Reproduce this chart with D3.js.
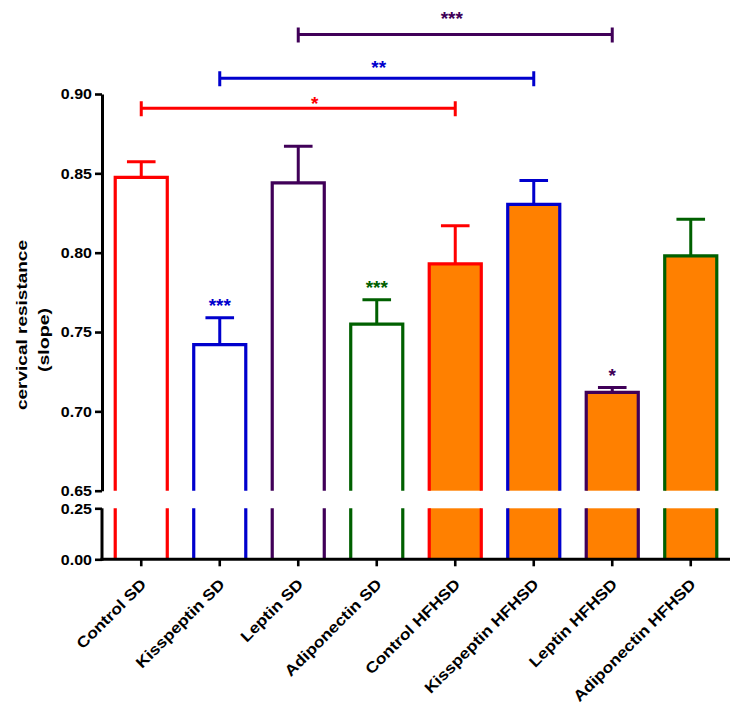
<!DOCTYPE html>
<html>
<head>
<meta charset="utf-8">
<script src="https://cdn.jsdelivr.net/npm/d3@7"></script>
<style>
  html, body { margin: 0; padding: 0; background: #fff; }
  svg { display: block; }
  text { font-family: "Liberation Sans", Arial, sans-serif; font-weight: bold; }
</style>
</head>
<body>
<svg id="chart" width="740" height="707"></svg>
<script>
// ---- data ----
const categories = ["Control SD", "Kisspeptin SD", "Leptin SD", "Adiponectin SD",
                    "Control HFHSD", "Kisspeptin HFHSD", "Leptin HFHSD", "Adiponectin HFHSD"];
const means = [0.8475, 0.742, 0.844, 0.755, 0.793, 0.8305, 0.712, 0.798];
const sems  = [0.0098, 0.017, 0.023, 0.0154, 0.024, 0.015, 0.003, 0.023];
const barSignificance = ["", "***", "", "***", "", "", "*", ""];
const topTicks = [0.65, 0.70, 0.75, 0.80, 0.85, 0.90];
const bottomTicks = [0.00, 0.25];
const compFrom  = ["Control SD", "Kisspeptin SD", "Leptin SD"];
const compTo    = ["Control HFHSD", "Kisspeptin HFHSD", "Leptin HFHSD"];
const compLevel = [0.891, 0.910, 0.9375];
const compStarLevel = [0.897, 0.9195, 0.9504];
const compLabel = ["*", "**", "***"];

// ---- styles ----
const edgeColors = ["#FF0000", "#0000CD", "#400058", "#006000", "#FF0000", "#0000CD", "#400058", "#006000"];
const fillColors = ["#FFFFFF", "#FFFFFF", "#FFFFFF", "#FFFFFF", "#FF8000", "#FF8000", "#FF8000", "#FF8000"];
const compColors = ["#FF0000", "#0000CD", "#400058"];
const compStarNudge = [16.5, 2, -3.5];

const svg = d3.select("#chart");

const axisX = 102;
const x = d3.scaleBand().domain(categories).range([axisX, 730]).paddingInner(0.337).paddingOuter(0.1685);
const yTop = d3.scaleLinear().domain([0.65, 0.90]).range([490.7, 94]);
const yBot = d3.scaleLinear().domain([0, 0.25]).range([559.3, 508.3]);
const bw = x.bandwidth();
const cx = c => x(c) + bw / 2;

const rows = categories.map((c, i) => ({c, m: means[i], s: sems[i], sig: barSignificance[i], edge: edgeColors[i], fill: fillColors[i]}));

// ---- bars ----
const bars = svg.append("g");
bars.selectAll("rect.top").data(rows).join("rect")
  .attr("x", d => x(d.c)).attr("width", bw)
  .attr("y", d => yTop(d.m)).attr("height", d => yTop(0.65) - yTop(d.m))
  .attr("fill", d => d.fill);
bars.selectAll("rect.bot").data(rows).join("rect")
  .attr("x", d => x(d.c)).attr("width", bw)
  .attr("y", yBot(0.25)).attr("height", yBot(0) - yBot(0.25))
  .attr("fill", d => d.fill);
bars.selectAll("path.outline").data(rows).join("path")
  .attr("fill", "none").attr("stroke", d => d.edge).attr("stroke-width", 3.2)
  .attr("stroke-linejoin", "miter")
  .attr("d", d => {
    const l = x(d.c), r = x(d.c) + bw;
    return `M${l},${yTop(0.65)}V${yTop(d.m)}H${r}V${yTop(0.65)}` +
           `M${l},${yBot(0.25)}V${yBot(0)}M${r},${yBot(0.25)}V${yBot(0)}`;
  });

// error bars
const capHalf = 14.3;
bars.selectAll("path.err").data(rows).join("path")
  .attr("fill", "none").attr("stroke", d => d.edge).attr("stroke-width", 3)
  .attr("d", d => `M${cx(d.c)},${yTop(d.m)}V${yTop(d.m + d.s)}M${cx(d.c) - capHalf},${yTop(d.m + d.s)}H${cx(d.c) + capHalf}`);

// significance above bars
bars.selectAll("text.sig").data(rows.filter(d => d.sig)).join("text")
  .attr("x", d => cx(d.c)).attr("y", d => yTop(d.m + d.s) - 17 + 11)
  .attr("text-anchor", "middle").attr("font-size", 19)
  .attr("fill", d => d.edge).text(d => d.sig);

// ---- axes ----
const fmt = d3.format(".2f");
function styleAxis(g) {
  g.selectAll("path.domain").attr("stroke", "#000").attr("stroke-width", 3);
  g.selectAll(".tick line").attr("stroke", "#000").attr("stroke-width", 2.6);
}
function styleYText(g) {
  g.selectAll(".tick text")
    .attr("x", null).attr("dy", "0.34em")
    .attr("transform", "translate(-10,0) scale(1.12,1)")
    .attr("font-size", 14.3).attr("fill", "#000")
    .style("font-family", "'Liberation Sans', Arial, sans-serif").style("font-weight", "bold");
}
const gyTop = svg.append("g").attr("transform", `translate(${axisX},0)`)
  .call(d3.axisLeft(yTop).tickValues(topTicks).tickFormat(fmt).tickSize(7).tickSizeOuter(0));
styleAxis(gyTop); styleYText(gyTop);
const gyBot = svg.append("g").attr("transform", `translate(${axisX},0)`)
  .call(d3.axisLeft(yBot).tickValues(bottomTicks).tickFormat(fmt).tickSize(7).tickSizeOuter(0));
styleAxis(gyBot); styleYText(gyBot);
gyBot.select("path.domain").attr("d", `M0,${yBot(0.25)}V${yBot(0) + 1.5}`);

const gx = svg.append("g").attr("transform", `translate(0,${yBot(0)})`)
  .call(d3.axisBottom(x).tickSize(7).tickSizeOuter(0));
styleAxis(gx);
gx.select("path.domain").attr("d", `M${axisX - 1.5},0H${x.range()[1]}`);
gx.selectAll(".tick text")
  .attr("x", null).attr("y", null).attr("dy", null)
  .attr("text-anchor", "end")
  .attr("transform", "translate(6,26) rotate(-45) scale(1.15,1)")
  .attr("font-size", 15.2).attr("fill", "#000")
  .style("font-family", "'Liberation Sans', Arial, sans-serif").style("font-weight", "bold");

// ---- y title ----
svg.append("text")
  .attr("transform", "translate(27.3,325) rotate(-90)")
  .attr("text-anchor", "middle").attr("font-size", 15)
  .attr("textLength", 170).attr("lengthAdjust", "spacingAndGlyphs")
  .text("cervical resistance");
svg.append("text")
  .attr("transform", "translate(48.7,340) rotate(-90)")
  .attr("text-anchor", "middle").attr("font-size", 15)
  .attr("textLength", 64).attr("lengthAdjust", "spacingAndGlyphs")
  .text("(slope)");

// ---- comparison brackets ----
const comps = compFrom.map((f, i) => ({f, t: compTo[i], lv: compLevel[i], sl: compStarLevel[i], lab: compLabel[i], col: compColors[i], nudge: compStarNudge[i]}));
const br = svg.append("g");
br.selectAll("path").data(comps).join("path")
  .attr("fill", "none").attr("stroke", d => d.col).attr("stroke-width", 3)
  .attr("d", d => {
    const a = cx(d.f), b = cx(d.t), y = yTop(d.lv);
    return `M${a},${y}H${b}M${a},${y - 7}V${y + 8}M${b},${y - 7}V${y + 8}`;
  });
br.selectAll("text").data(comps).join("text")
  .attr("x", d => (cx(d.f) + cx(d.t)) / 2 + d.nudge)
  .attr("y", d => yTop(d.sl) + 11)
  .attr("text-anchor", "middle").attr("font-size", 19)
  .attr("fill", d => d.col).text(d => d.lab);
</script>
</body>
</html>
